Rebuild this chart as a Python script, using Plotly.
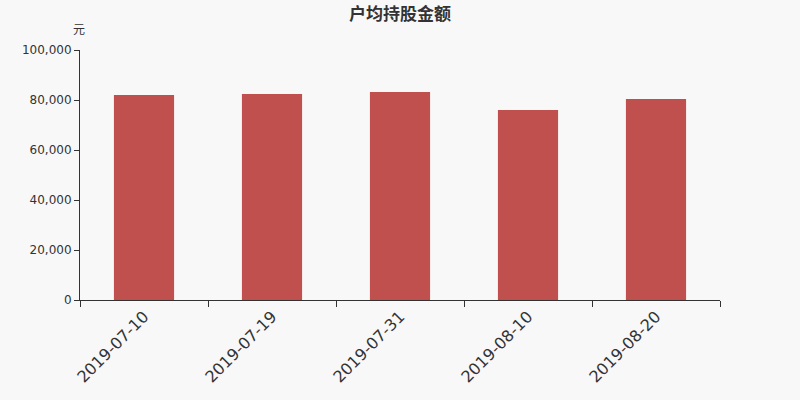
import plotly.graph_objects as go

# 日期与户均持股金额（元）
dates = ["2019-07-10", "2019-07-19", "2019-07-31", "2019-08-10", "2019-08-20"]
amounts = [82000, 82400, 83200, 76000, 80400]

y_ticks = [0, 20000, 40000, 60000, 80000, 100000]
y_labels = ["0", "20,000", "40,000", "60,000", "80,000", "100,000"]

fig = go.Figure()
fig.add_trace(go.Bar(x=dates, y=amounts, marker_color="#c0504d", marker_line_width=0))

fig.update_layout(
    width=800, height=400,
    paper_bgcolor="#f8f8f8", plot_bgcolor="#f8f8f8",
    margin=dict(l=80, r=80, t=50, b=100),
    bargap=0.53,
    showlegend=False,
    font=dict(family="DejaVu Sans", color="#333333"),
    title=dict(text="<b>户均持股金额</b>", x=0.5, xanchor="center", y=0.98, yanchor="top",
               font=dict(family="Noto Sans CJK SC", size=17, color="#333333")),
)
fig.update_xaxes(
    type="category", showline=True, linecolor="#333333", linewidth=1,
    ticks="outside", tickson="boundaries", ticklen=6, tickcolor="#333333",
    tickangle=-45, tickfont=dict(size=16, color="#333333"), showgrid=False,
)
fig.update_yaxes(
    range=[0, 100000], tickvals=y_ticks, ticktext=y_labels,
    showline=True, linecolor="#333333", linewidth=1,
    ticks="outside", ticklen=5, tickcolor="#333333",
    tickfont=dict(size=12, color="#333333"), showgrid=False, zeroline=False,
)
fig.add_annotation(text="元", xref="paper", yref="paper", x=0, y=1, xshift=-1, yshift=22,
                   xanchor="center", yanchor="middle",
                   showarrow=False, font=dict(family="Noto Sans CJK SC", size=12, color="#333333"))

# 去掉页面默认边距，让图表贴合窗口
fig.write_html("out.html", config={"displayModeBar": False},
               post_script="document.body.style.margin='0';")
